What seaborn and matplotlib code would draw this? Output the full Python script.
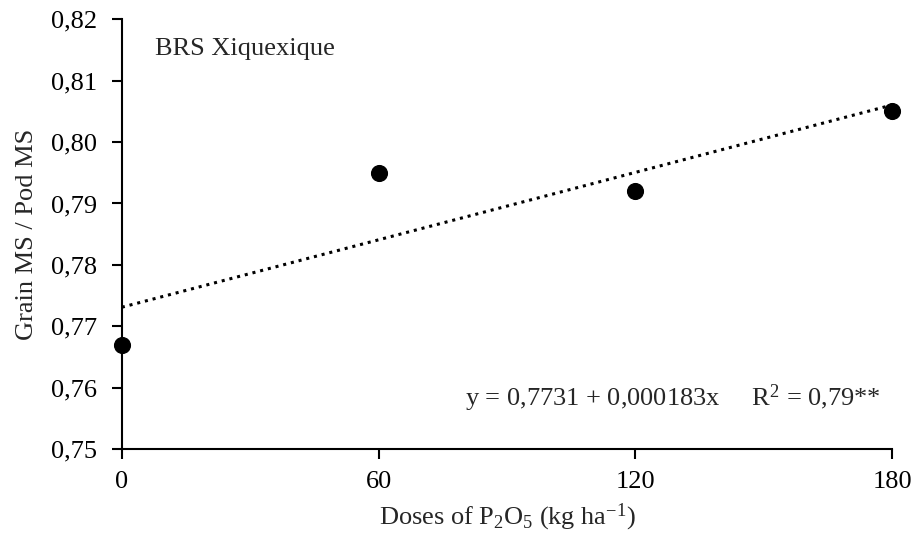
import matplotlib
matplotlib.use("Agg")
import matplotlib.pyplot as plt
from matplotlib.ticker import FuncFormatter
import seaborn as sns
import pandas as pd
import numpy as np

# Data
doses = [0, 60, 120, 180]
ratio = [0.767, 0.795, 0.792, 0.805]
intercept = 0.7731
slope = 0.000183
cultivar = "BRS Xiquexique"

sns.set_style("ticks")
plt.rcParams["font.family"] = ["Liberation Serif", "DejaVu Serif"]
plt.rcParams["mathtext.fontset"] = "custom"
plt.rcParams["mathtext.rm"] = "Liberation Serif"
plt.rcParams["mathtext.it"] = "Liberation Serif:italic"

df = pd.DataFrame({"dose": doses, "ratio": ratio})
xfit = np.array([min(doses), max(doses)])
fit = pd.DataFrame({"dose": xfit, "ratio": intercept + slope * xfit})

fig = plt.figure(figsize=(9.16, 5.34), dpi=100)
ax = fig.add_axes([0.133, 0.159, 0.841, 0.805])

sns.lineplot(data=fit, x="dose", y="ratio", ax=ax, color="black",
             linestyle=(0, (1, 1.6)), linewidth=2.2)
sns.scatterplot(data=df, x="dose", y="ratio", ax=ax, color="black",
                s=130, edgecolor="black", zorder=5, clip_on=False)

fs = 19
ax.set_xlim(0, 180)
ax.set_ylim(0.75, 0.82)
ax.set_xticks(doses)
ax.set_yticks(np.arange(0.75, 0.8201, 0.01))
ax.yaxis.set_major_formatter(FuncFormatter(lambda v, p: f"{v:.2f}".replace(".", ",")))
ax.tick_params(labelsize=fs, width=1.5, length=7, direction="out", colors="black")
ax.tick_params(axis="x", pad=9)
ax.tick_params(axis="y", pad=11)
for side in ["left", "bottom"]:
    ax.spines[side].set_linewidth(1.5)
    ax.spines[side].set_color("black")
sns.despine(ax=ax)

ax.set_xlabel(r"Doses of P$_2$O$_5$ (kg ha$^{\mathregular{-1}}$)", fontsize=fs, labelpad=6)
ax.set_ylabel("Grain MS / Pod MS", fontsize=fs, labelpad=9)

ax.text(0.043, 0.916, cultivar, transform=ax.transAxes, fontsize=fs)
ax.text(0.445, 0.10, "y = 0,7731 + 0,000183x     R$^2$ = 0,79**",
        transform=ax.transAxes, fontsize=fs)

fig.savefig("out.png", dpi=100)
